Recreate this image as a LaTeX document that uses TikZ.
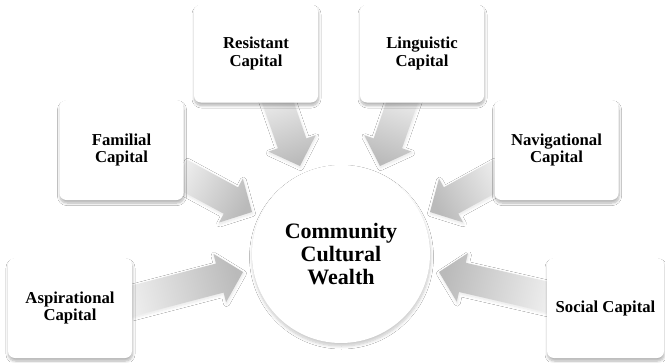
\documentclass[tikz,border=0pt]{standalone}
\usepackage{fontspec}
\setmainfont{Liberation Serif}
\usetikzlibrary{calc,shadows.blur}
\tikzset{
  capbox/.style={rounded corners=7pt, fill=white, draw=none,
    minimum width=124pt, minimum height=98pt, inner sep=0pt, align=center,
    font=\bfseries\fontsize{16.7}{17.5}\selectfont,
    blur shadow={shadow xshift=0.5pt, shadow yshift=-3pt, shadow opacity=30,
      shadow blur radius=2.5pt, shadow blur steps=8}},
  hub/.style={circle, fill=white, draw=none, minimum size=178pt,
    inner sep=0pt, align=center, font=\bfseries\fontsize{22}{23}\selectfont,
    blur shadow={shadow xshift=0.5pt, shadow yshift=-3pt, shadow opacity=22,
      shadow blur radius=3pt, shadow blur steps=8}},
  arrowfill/.style={left color=black!7, right color=black!27,
    blur shadow={shadow xshift=0.5pt, shadow yshift=-1.5pt, shadow opacity=10,
      shadow blur radius=3pt, shadow blur steps=6}}
}
\newcommand\wideArrow[3]{%
  \coordinate (#1-n) at ($(#2)!24pt!(#1)$);
  \shade[arrowfill, shading angle=#3]
    ($(#1)!15pt!90:(#2)$) -- ($(#1-n)!15pt!90:(#2)$) -- ($(#1-n)!25pt!90:(#2)$)
    -- (#2) -- ($(#1-n)!25pt!-90:(#2)$) -- ($(#1-n)!15pt!-90:(#2)$)
    -- ($(#1)!15pt!-90:(#2)$) -- cycle;
}
\begin{document}
\begin{tikzpicture}[x=1pt,y=1pt]
\useasboundingbox (0,0) rectangle (665,-362);
\fill[white] (0,0) rectangle (665,-362);
% arrow end points
\coordinate (rt) at (275,-94);   \coordinate (rh) at (300,-166);
\coordinate (lt) at (405,-94);   \coordinate (lh) at (380,-166);
\coordinate (ft) at (180,-173);  \coordinate (fh) at (252,-212);
\coordinate (nt) at (501,-173);  \coordinate (nh) at (430,-212);
\coordinate (at) at (128,-302);  \coordinate (ah) at (243,-272);
\coordinate (st) at (552,-298);  \coordinate (sh) at (439,-272);
\wideArrow{rt}{rh}{19.2}
\wideArrow{lt}{lh}{-19.1}
\wideArrow{ft}{fh}{61.6}
\wideArrow{nt}{nh}{-61.2}
\wideArrow{at}{ah}{104.6}
\wideArrow{st}{sh}{257}
% boxes
\node[capbox] (res) at (256,-53.5) {Resistant\\Capital};
\node[capbox] (lin) at (422,-53.5) {Linguistic\\Capital};
\node[capbox, minimum height=100pt] (fam) at (121.5,-150) {Familial\\Capital};
\node[capbox, minimum height=100pt] (nav) at (556.5,-150) {Navigational\\Capital};
\node[capbox, minimum height=100pt] (asp) at (70,-308) {Aspirational\\Capital};
\node[capbox, minimum height=100pt, minimum width=117pt] (soc) at (605.5,-308) {Social Capital};
% hub
\node[hub] (ccw) at (341,-254) {Community\\Cultural\\Wealth};
\end{tikzpicture}
\end{document}
